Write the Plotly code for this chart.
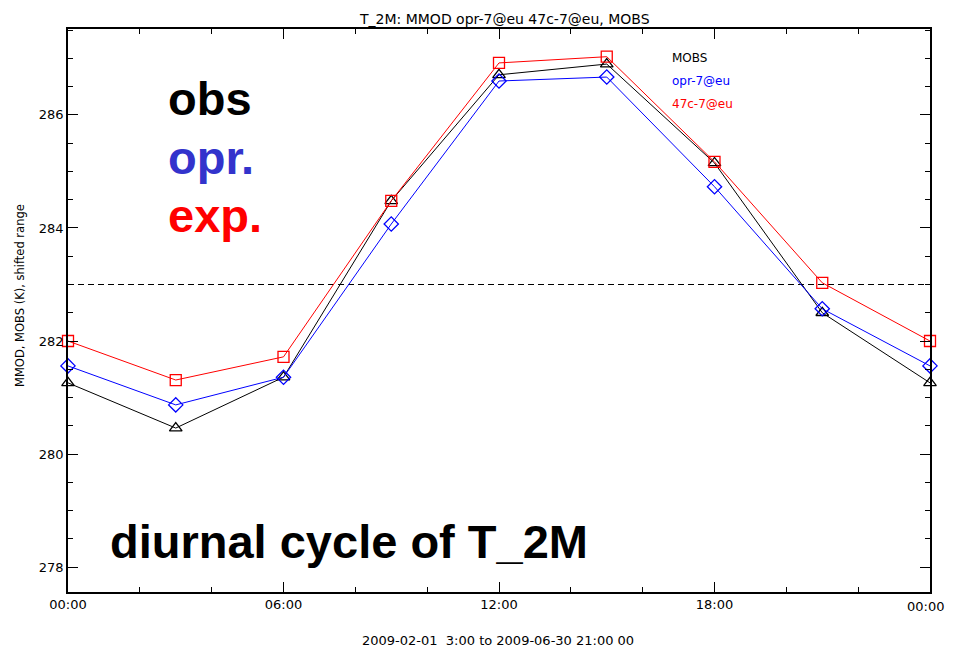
import plotly.graph_objects as go

hours = [0, 3, 6, 9, 12, 15, 18, 21, 24]
obs = [281.26, 280.46, 281.36, 284.48, 286.71, 286.90, 285.15, 282.50, 281.26]
opr = [281.56, 280.87, 281.36, 284.07, 286.60, 286.67, 284.73, 282.57, 281.56]
exp_ = [282.00, 281.31, 281.72, 284.48, 286.92, 287.03, 285.17, 283.03, 282.00]
ref_level = 283.0

series_names = ["MOBS", "opr-7@eu", "47c-7@eu"]
series_colors = ["black", "blue", "red"]
series_symbols = ["triangle-up-open", "diamond-open", "square-open"]
series_values = [obs, opr, exp_]

x_tickvals = [0, 6, 12, 18, 24]
x_ticktext = ["00:00", "06:00", "12:00", "18:00", ""]
last_xtick_label = "00:00"
y_tickvals = [278, 280, 282, 284, 286]

big_labels = ["obs", "opr.", "exp."]
big_colors = ["black", "#3333cc", "red"]

SMALL = "DejaVu Sans, Liberation Sans, sans-serif"
BIG = "Liberation Sans, Arial, sans-serif"

# page offset of the figure (browser body margin)
OFF = 8
W, H = 937, 644
# plot frame in page pixels
PL, PR, PT, PB = 68, 930, 29, 592
L, T = PL - OFF, PT - OFF
R = W - (PR - OFF)
B = H - (PB - OFF)
pw, ph = PR - PL, PB - PT


def px(xp):
    return (xp - PL) / pw


def py(yp):
    return 1 - (yp - PT) / ph


fig = go.Figure()
fig.add_trace(go.Scatter(x=[0, 24], y=[ref_level, ref_level], mode="lines",
                         line=dict(color="black", width=1, dash="6px,4px"),
                         showlegend=False, hoverinfo="skip"))
for name, col, sym, vals in zip(series_names, series_colors, series_symbols, series_values):
    fig.add_trace(go.Scatter(x=hours, y=vals, mode="lines+markers", name=name,
                             line=dict(color=col, width=1),
                             marker=dict(symbol=sym, size=11, color=col, line=dict(width=1.3, color=col)),
                             showlegend=False, cliponaxis=False))

for i, (name, col) in enumerate(zip(series_names, series_colors)):
    fig.add_annotation(x=px(670), y=py(58 + 23 * i), xref="paper", yref="paper",
                       text=name, showarrow=False,
                       font=dict(family=SMALL, size=12, color=col),
                       xanchor="left", yanchor="middle")

for i, (lab, col) in enumerate(zip(big_labels, big_colors)):
    fig.add_annotation(x=px(166), y=py(99 + 58 * i), xref="paper", yref="paper",
                       text="<b>" + lab + "</b>", showarrow=False,
                       font=dict(family=BIG, size=47, color=col),
                       xanchor="left", yanchor="middle")

fig.add_annotation(x=px(108), y=py(541), xref="paper", yref="paper",
                   text="<b>diurnal cycle of T_2M</b>", showarrow=False,
                   font=dict(family=BIG, size=47, color="black"),
                   xanchor="left", yanchor="middle")

fig.add_annotation(x=px(498), y=py(640), xref="paper", yref="paper",
                   text="2009-02-01  3:00 to 2009-06-30 21:00 00", showarrow=False,
                   font=dict(family=SMALL, size=13, color="black"), xanchor="center", yanchor="middle")

fig.add_annotation(x=px(504), y=py(8.5), xref="paper", yref="paper",
                   text="T_2M: MMOD opr-7@eu 47c-7@eu, MOBS", showarrow=False,
                   font=dict(family=SMALL, size=14, color="black"), xanchor="center", yanchor="top")

fig.add_annotation(x=px(20), y=py(296), xref="paper", yref="paper",
                   text="MMOD, MOBS (K), shifted range", showarrow=False, textangle=-90,
                   font=dict(family=SMALL, size=11.5, color="black"), xanchor="center", yanchor="middle")

# last x tick label, right-aligned so it stays inside the figure
fig.add_annotation(x=px(946), y=py(606), xref="paper", yref="paper",
                   text=last_xtick_label, showarrow=False,
                   font=dict(family=SMALL, size=13, color="black"), xanchor="right", yanchor="middle")

fig.update_layout(
    width=W, height=H,
    margin=dict(l=L, r=R, t=T, b=B),
    plot_bgcolor="white", paper_bgcolor="white",
    font=dict(family=SMALL, size=13, color="black"),
    xaxis=dict(range=[0, 24], tickvals=x_tickvals, ticktext=x_ticktext,
               ticks="inside", ticklen=10, tickwidth=1, tickcolor="black",
               showline=True, linecolor="black", linewidth=1.5, mirror="ticks",
               showgrid=False, zeroline=False,
               minor=dict(dtick=2, tick0=0, ticks="inside", ticklen=5, tickcolor="black", showgrid=False),
               tickfont=dict(size=13)),
    yaxis=dict(range=[277.56, 287.52], tickvals=y_tickvals,
               ticks="inside", ticklen=10, tickwidth=1, tickcolor="black",
               showline=True, linecolor="black", linewidth=1.5, mirror="ticks",
               showgrid=False, zeroline=False,
               minor=dict(dtick=0.5, tick0=0, ticks="inside", ticklen=5, tickcolor="black", showgrid=False),
               tickfont=dict(size=13)),
)

fig.write_html("out.html")
